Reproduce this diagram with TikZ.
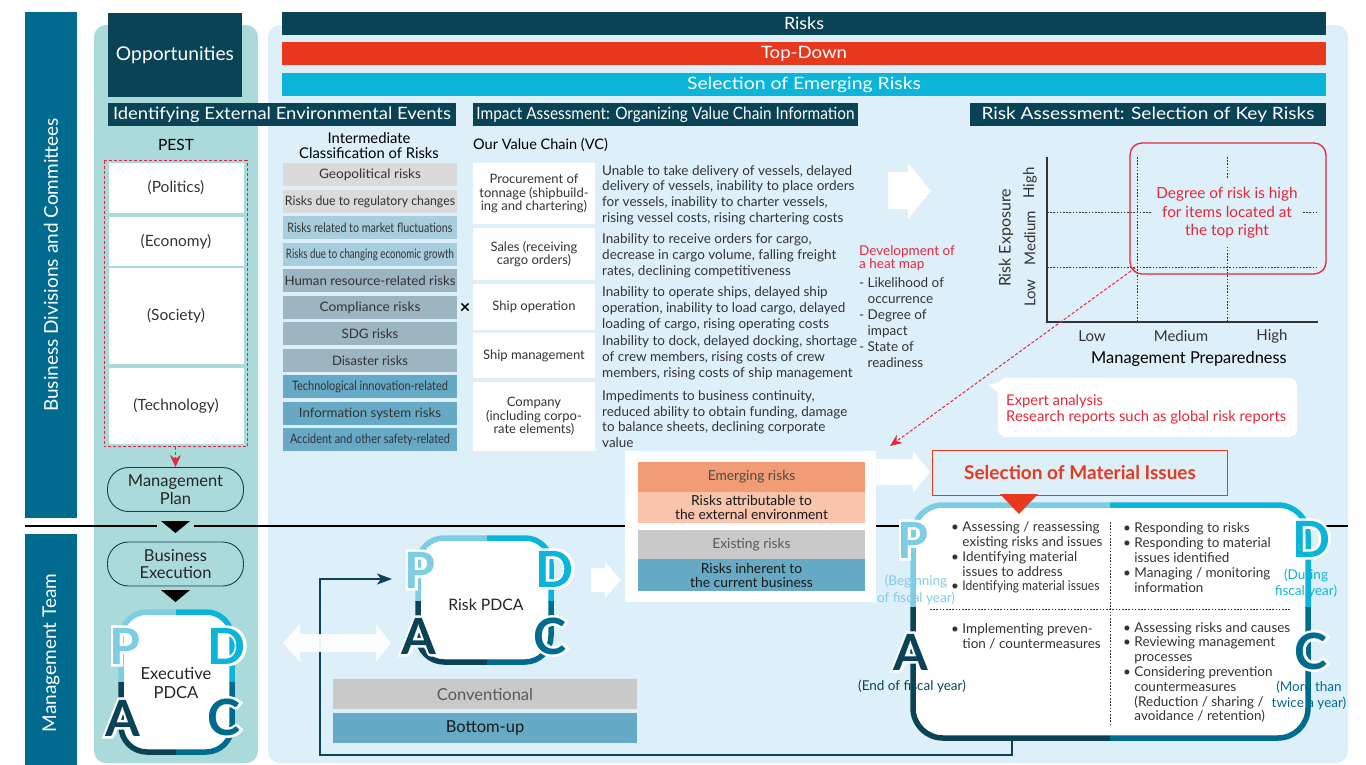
\documentclass[tikz,border=0pt]{standalone}
\usepackage{fontspec}
\setmainfont{Lato}
\newfontfamily\halofont{Lato}[RawFeature={embolden=10}]
\usepackage{graphicx}
\usetikzlibrary{calc,arrows.meta}
\definecolor{navy}{HTML}{0A4356}
\definecolor{sideblue}{HTML}{006B8F}
\definecolor{topred}{HTML}{E8391F}
\definecolor{cyanbar}{HTML}{0BB5DA}
\definecolor{lteal}{HTML}{AADADA}
\definecolor{panel}{HTML}{DDEFF9}
\definecolor{pblue}{HTML}{7DCDE5}
\definecolor{crimson}{HTML}{E5273B}
\definecolor{cgray}{HTML}{DADADA}
\definecolor{cltblue}{HTML}{A8CDDD}
\definecolor{cgblue}{HTML}{9DB4C1}
\definecolor{cmblue}{HTML}{67AAC6}
\definecolor{txt}{HTML}{333333}
\definecolor{emerg}{HTML}{F29C76}
\definecolor{emergb}{HTML}{F8C4AC}
\definecolor{exist}{HTML}{C9C9C9}
\newcommand\fsz[2]{\fontsize{#1}{#2}\selectfont}
\newcommand\fitto[2]{\resizebox{#1}{\height}{#2}}
\newcommand\pdcaframe[7]{%
  \fill[white,rounded corners=#7] (#1,#2) rectangle (#3,#4);
  \begin{scope}\clip (#1-10,#2-10) rectangle (#5,#6);
    \draw[pblue,line width=5.5pt,rounded corners=#7] (#1,#2) rectangle (#3,#4);\end{scope}
  \begin{scope}\clip (#5,#2-10) rectangle (#3+10,#6);
    \draw[cyanbar,line width=5.5pt,rounded corners=#7] (#1,#2) rectangle (#3,#4);\end{scope}
  \begin{scope}\clip (#1-10,#6) rectangle (#5,#4+10);
    \draw[navy,line width=5.5pt,rounded corners=#7] (#1,#2) rectangle (#3,#4);\end{scope}
  \begin{scope}\clip (#5,#6) rectangle (#3+10,#4+10);
    \draw[sideblue,line width=5.5pt,rounded corners=#7] (#1,#2) rectangle (#3,#4);\end{scope}}
\newcommand\pdcaletter[5]{%
  \node[inner sep=0,text=white,font=\fsz{50}{50}\halofont\bfseries] (#1h) at (#2,#3) {#5};
  \node[pdcal,text=#4] (#1) at (#2,#3) {#5};}
\tikzset{
  pdcal/.style={inner sep=0,font=\fsz{50}{50}\bfseries},
  bar/.style={inner sep=0,text=white,font=\fsz{17}{17}},
  hdr/.style={inner sep=0,fill=navy,text=white,minimum height=23pt,font=\fsz{17}{17}},
  pestbox/.style={fill=white,minimum width=135pt,inner sep=0,text=txt,font=\fsz{15.5}{15.5}},
  oval/.style={draw=navy,line width=0.9pt,fill=lteal,rounded corners=21pt,minimum width=136pt,minimum height=44pt,inner sep=0,align=center,text=black!85,font=\fsz{16.5}{17.5}},
  cls/.style={minimum width=174pt,minimum height=23pt,inner sep=0,text=txt,font=\fsz{13}{13}},
  vcbox/.style={fill=white,minimum width=122pt,inner sep=0,align=center,text=txt,font=\fsz{13}{13.7}},
  desc/.style={anchor=west,align=left,inner sep=0,text=txt,font=\fsz{13.5}{15.8}},
  lbl/.style={inner sep=0,text=txt,font=\fsz{15}{15}},
  pl/.style={anchor=west,align=left,inner sep=0,text=txt,font=\fsz{13.5}{14.8}},
  dotl/.style={txt,line width=0.9pt,dash pattern=on 1.6pt off 1.6pt},
  rbar/.style={minimum width=227pt,minimum height=30pt,inner sep=0,align=center,font=\fsz{13.8}{14}},
}
\begin{document}
\begin{tikzpicture}[x=1pt,y=-1pt]
\useasboundingbox (0,0) rectangle (1366,764);
\clip (0,0) rectangle (1366,764);
\fill[white] (0,0) rectangle (1366,764);
% side bars
\node[fill=sideblue,minimum width=52pt,minimum height=506pt,inner sep=0] (bdc) at (51,265) {};
\node[rotate=90,text=white,font=\fsz{19}{19}] (bdct) at (51,265) {Business Divisions and Committees};
\node[fill=sideblue,minimum width=52pt,minimum height=240pt,inner sep=0] (mt) at (51,654) {};
\node[rotate=90,text=white,font=\fsz{19}{19}] (mtt) at (51,653) {Management Team};
% panels
\fill[lteal,rounded corners=12pt] (94,25) rectangle (258,763);
\fill[panel,rounded corners=12pt] (268,25) rectangle (1348,763);
% divider line
\draw[black,line width=1.2pt] (25,526) -- (157,526);
\draw[black,line width=1.2pt] (194,526) -- (1348,526);
% top bars
\node[bar,fill=navy,minimum width=1044pt,minimum height=23pt] (risks) at (804,23.5) {\fitto{40pt}{Risks}};
\node[bar,fill=topred,minimum width=1044pt,minimum height=23pt] (topdown) at (804,53.5) {\fitto{86pt}{Top-Down}};
\node[bar,fill=cyanbar,minimum width=1044pt,minimum height=23pt] (sel) at (804,84.5) {\fitto{234pt}{Selection of Emerging Risks}};
\node[bar,fill=navy,minimum width=134pt,minimum height=84pt,font=\fsz{19}{19}] (opp) at (175,55) {\fitto{118pt}{Opportunities}};
\node[hdr,minimum width=348pt] (h1) at (282,114.5) {\fitto{338pt}{Identifying External Environmental Events}};
\node[hdr,minimum width=385pt] (h2) at (665.5,114.5) {\fitto{378pt}{Impact Assessment: Organizing Value Chain Information}};
\node[hdr,minimum width=356pt] (h3) at (1148,114.5) {\fitto{333pt}{Risk Assessment: Selection of Key Risks}};
% PEST
\node[lbl,text=black,font=\fsz{15.5}{15.5}] (pest) at (176,145) {PEST};
\draw[crimson,line width=1pt,dash pattern=on 3pt off 2pt] (104,160.5) rectangle (247,446.5);
\node[pestbox,minimum height=50pt] (pol) at (176,188) {(Politics)};
\node[pestbox,minimum height=49pt] (eco) at (176,241.5) {(Economy)};
\node[pestbox,minimum height=96pt] (soc) at (176,316) {(Society)};
\node[pestbox,minimum height=76pt] (tec) at (176,406) {(Technology)};
\node[oval] (mplan) at (175.5,489.5) {Management\\Plan};
\node[oval] (bexec) at (175.5,564) {Business\\Execution};
\coordinate (pestb) at (175.5,447);
\draw[crimson,line width=1pt,dash pattern=on 3pt off 2pt,-{Stealth[length=12pt,width=11pt]}] (pestb) -- (mplan.north);
\fill[black] (161,521) -- (190,521) -- (175.5,533) -- cycle;
\fill[black] (161,590) -- (190,590) -- (175.5,602) -- cycle;
% classification
\node[align=center,text=black,font=\fsz{14.8}{15},inner sep=0] (icr) at (369,145.5) {Intermediate\\Classification of Risks};
\node[cls,fill=cgray] (c1) at (370,174.5) {\fitto{102pt}{Geopolitical risks}};
\node[cls,fill=cgray] (c2) at (370,201.5) {\fitto{170pt}{Risks due to regulatory changes}};
\node[cls,fill=cltblue] (c3) at (370,227.5) {\fitto{165pt}{Risks related to market fluctuations}};
\node[cls,fill=cltblue] (c4) at (370,254.5) {\fitto{168pt}{Risks due to changing economic growth}};
\node[cls,fill=cgblue] (c5) at (370,280.5) {\fitto{171pt}{Human resource-related risks}};
\node[cls,fill=cgblue] (c6) at (370,307.5) {\fitto{101pt}{Compliance risks}};
\node[cls,fill=cgblue] (c7) at (370,333.5) {\fitto{57pt}{SDG risks}};
\node[cls,fill=cgblue] (c8) at (370,360.5) {\fitto{76pt}{Disaster risks}};
\node[cls,fill=cmblue] (c9) at (370,386.5) {\fitto{156pt}{Technological innovation-related}};
\node[cls,fill=cmblue] (c10) at (370,413.5) {\fitto{142pt}{Information system risks}};
\node[cls,fill=cmblue] (c11) at (370,439.5) {\fitto{160pt}{Accident and other safety-related}};
\node[inner sep=0,font=\fsz{18}{18}\bfseries] (times) at (465,308) {×};
% value chain
\node[anchor=west,inner sep=0,text=black,font=\fsz{14.5}{14.5}] (ovc) at (473,145) {Our Value Chain (VC)};
\node[vcbox,minimum height=61pt] (vc1) at (534,193.5) {Procurement of\\tonnage (shipbuild-\\ing and chartering)};
\node[vcbox,minimum height=52pt] (vc2) at (534,254) {Sales (receiving\\cargo orders)};
\node[vcbox,minimum height=46pt] (vc3) at (534,307) {Ship operation};
\node[vcbox,minimum height=45pt] (vc4) at (534,355.5) {Ship management};
\node[vcbox,minimum height=69pt] (vc5) at (534,416.5) {Company\\(including corpo-\\rate elements)};
\node[desc] (d1) at (602,195) {Unable to take delivery of vessels, delayed\\delivery of vessels, inability to place orders\\for vessels, inability to charter vessels,\\rising vessel costs, rising chartering costs};
\node[desc] (d2) at (602,255.5) {Inability to receive orders for cargo,\\decrease in cargo volume, falling freight\\rates, declining competitiveness};
\node[desc] (d3) at (602,308.5) {Inability to operate ships, delayed ship\\operation, inability to load cargo, delayed\\loading of cargo, rising operating costs};
\node[desc] (d4) at (602,357.5) {Inability to dock, delayed docking, shortage\\of crew members, rising costs of crew\\members, rising costs of ship management};
\node[desc] (d5) at (602,419) {Impediments to business continuity,\\reduced ability to obtain funding, damage\\to balance sheets, declining corporate\\value};
% big white arrow
\fill[white] (888,172) -- (908,172) -- (908,163) -- (931,191) -- (908,219) -- (908,209) -- (888,209) -- cycle;
% heat map notes
\node[anchor=north west,align=left,inner sep=0,text=crimson,font=\fsz{13.5}{13}] (dev) at (859,245) {Development of\\a heat map};
\node[anchor=north west,align=left,inner sep=0,text=txt,font=\fsz{13.5}{16}] (crit) at (859,277) {- Likelihood of\\\hphantom{- }occurrence\\- Degree of\\\hphantom{- }impact\\- State of\\\hphantom{- }readiness};
% heat map
\draw[dotl] (1137,157) -- (1137,322);
\draw[dotl] (1227,157) -- (1227,322);
\draw[dotl] (1047,212) -- (1318,212);
\draw[dotl] (1047,267) -- (1318,267);
\draw[txt,line width=1.5pt] (1047,157) -- (1047,322) -- (1318,322);
\node[align=center,fill=panel,inner xsep=4pt,inner ysep=8pt,text=crimson,font=\fsz{15.3}{18.5}] (deg) at (1227,213) {Degree of risk is high\\for items located at\\the top right};
\draw[crimson,line width=1.3pt,rounded corners=12pt] (1130,143) rectangle (1326,274);
\node[lbl,rotate=90,font=\fsz{16}{16}] (rexp) at (1006,238) {Risk Exposure};
\node[lbl,rotate=90] (yl) at (1030,293) {Low};
\node[lbl,rotate=90] (ym) at (1030,238) {Medium};
\node[lbl,rotate=90] (yh) at (1030,183) {High};
\node[lbl] (xl) at (1092,336) {Low};
\node[lbl] (xm) at (1181,336) {Medium};
\node[lbl] (xh) at (1272,336) {High};
\node[lbl,text=black,font=\fsz{16.4}{16.4}] (mp) at (1189,359) {Management Preparedness};
% callout
\fill[white,rounded corners=8pt] (998,378) rectangle (1297,437);
\fill[white] (988,385) -- (1006,380) -- (1006,398) -- cycle;
\node[anchor=west,align=left,inner sep=0,text=crimson,font=\fsz{14.8}{16}] (expert) at (1006,409) {Expert analysis\\Research reports such as global risk reports};
% emerging / existing box
\node[fill=white,minimum width=251pt,minimum height=151pt,inner sep=0] (ebox) at (750.5,526.5) {};
\node[rbar,fill=emerg,text=black!70] (er) at (751.5,477) {Emerging risks};
\node[rbar,fill=emergb,text=black!90,minimum height=31pt] (era) at (751.5,507.5) {Risks attributable to\\the external environment};
\node[rbar,fill=exist,text=black!65,minimum height=29pt] (xr) at (751.5,544.5) {Existing risks};
\node[rbar,fill=cmblue,text=black!90,minimum height=32pt] (xra) at (751.5,575) {Risks inherent to\\the current business};
% arrows to selection
\fill[white] (876,459) -- (913,459) -- (913,451) -- (930,472) -- (913,493) -- (913,485) -- (876,485) -- cycle;
\node[fill=panel,minimum width=294pt,minimum height=44pt,inner sep=0,text=topred,font=\fsz{19}{19}\bfseries] (smi) at (1080,473) {Selection of Material Issues};
\draw[topred,line width=1.2pt] (smi.north west) rectangle (smi.south east);
% feedback line
\coordinate (fb0) at (1012,738);
\coordinate (fb1) at (1012,755);
\coordinate (fb2) at (320,755);
\coordinate (fb3) at (320,579);
\coordinate (fb4) at (392,579);
\draw[navy,line width=2pt,-{Stealth[length=15pt,width=11pt,inset=4pt]}] (fb0) -- (fb1) -- (fb2) -- (fb3) -- (fb4);
% big PDCA
\pdcaframe{913}{505}{1308}{738}{1110}{607}{30pt}
\draw[dotl] (1110,522) -- (1110,725);
\draw[dotl] (930,609) -- (1291,609);
\fill[topred] (1000,494) -- (1038,494) -- (1019,514) -- cycle;
\node[pl] (ptl) at (951,557.5) {\textbullet\ Assessing / reassessing\\\hphantom{\textbullet\ }existing risks and issues\\\textbullet\ Identifying material\\\hphantom{\textbullet\ }issues to address\\\textbullet\ \fitto{137pt}{Identifying material issues}};
\node[pl] (ptr) at (1123,557.5) {\textbullet\ Responding to risks\\\textbullet\ Responding to material\\\hphantom{\textbullet\ }issues identified\\\textbullet\ Managing / monitoring\\\hphantom{\textbullet\ }information};
\node[pl] (pbl) at (951,636) {\textbullet\ Implementing preven-\\\hphantom{\textbullet\ }tion / countermeasures};
\node[pl] (pbr) at (1123,672.5) {\textbullet\ Assessing risks and causes\\\textbullet\ Reviewing management\\\hphantom{\textbullet\ }processes\\\textbullet\ Considering prevention\\\hphantom{\textbullet\ }countermeasures\\\hphantom{\textbullet\ }(Reduction / sharing /\\\hphantom{\textbullet\ }avoidance / retention)};
\pdcaletter{bP}{913}{540}{pblue}{P}
\pdcaletter{bD}{1311}{539}{cyanbar}{D}
\pdcaletter{bA}{911}{652}{navy}{A}
\pdcaletter{bC}{1311}{651}{sideblue}{C}
\node[align=center,inner sep=0,text=pblue,font=\fsz{13.5}{17}] (beg) at (916,590) {(Beginning\\of fiscal year)};
\node[align=center,inner sep=0,text=cyanbar,font=\fsz{13.5}{16}] (dur) at (1306,583) {(During\\fiscal year)};
\node[inner sep=0,text=navy,font=\fsz{13.5}{13.5}] (endfy) at (912,686) {(End of fiscal year)};
\node[align=center,inner sep=0,text=sideblue,font=\fsz{13.5}{16}] (twice) at (1309,695) {(More than\\twice a year)};
% Risk PDCA
\pdcaframe{418}{538}{551}{662}{487}{601}{26pt}
\node[inner sep=0,text=black!85,font=\fsz{15.8}{15.8}] (rp) at (486,605) {Risk PDCA};
\pdcaletter{rP}{420}{570}{pblue}{P}
\pdcaletter{rD}{555}{569}{cyanbar}{D}
\pdcaletter{rA}{419}{636}{navy}{A}
\pdcaletter{rC}{550}{636}{sideblue}{C}
\fill[white] (591,568) -- (605,568) -- (605,562) -- (621,580) -- (605,598) -- (605,592) -- (591,592) -- cycle;
% conventional
\node[fill=exist,minimum width=304pt,minimum height=30pt,inner sep=0,text=black!65,font=\fsz{16.5}{16.5}] (conv) at (485,694) {Conventional};
\node[fill=cmblue,minimum width=304pt,minimum height=30pt,inner sep=0,text=black!90,font=\fsz{16.5}{16.5}] (bu) at (485,728) {Bottom-up};
% double arrow
\fill[white,opacity=0.92] (283,643) -- (300,624) -- (300,634) -- (376,634) -- (376,624) -- (391,643) -- (376,662) -- (376,652) -- (300,652) -- (300,662) -- cycle;
% executive PDCA
\pdcaframe{121}{612}{232}{752}{176}{682}{26pt}
\node[align=center,inner sep=0,text=black!85,font=\fsz{16.6}{18.5}] (ep) at (176,683) {Executive\\PDCA};
\pdcaletter{eP}{125}{646}{pblue}{P}
\pdcaletter{eD}{227}{646}{cyanbar}{D}
\pdcaletter{eA}{123}{718}{navy}{A}
\pdcaletter{eC}{224}{717}{sideblue}{C}
% red dashed arrow from heat map
\coordinate (hm0) at (1135,268);
\coordinate (hm1) at (890,446);
\draw[crimson,line width=1pt,dash pattern=on 3pt off 2pt,-{Stealth[length=12pt,width=10pt]}] (hm0) -- (hm1);
\end{tikzpicture}
\end{document}
